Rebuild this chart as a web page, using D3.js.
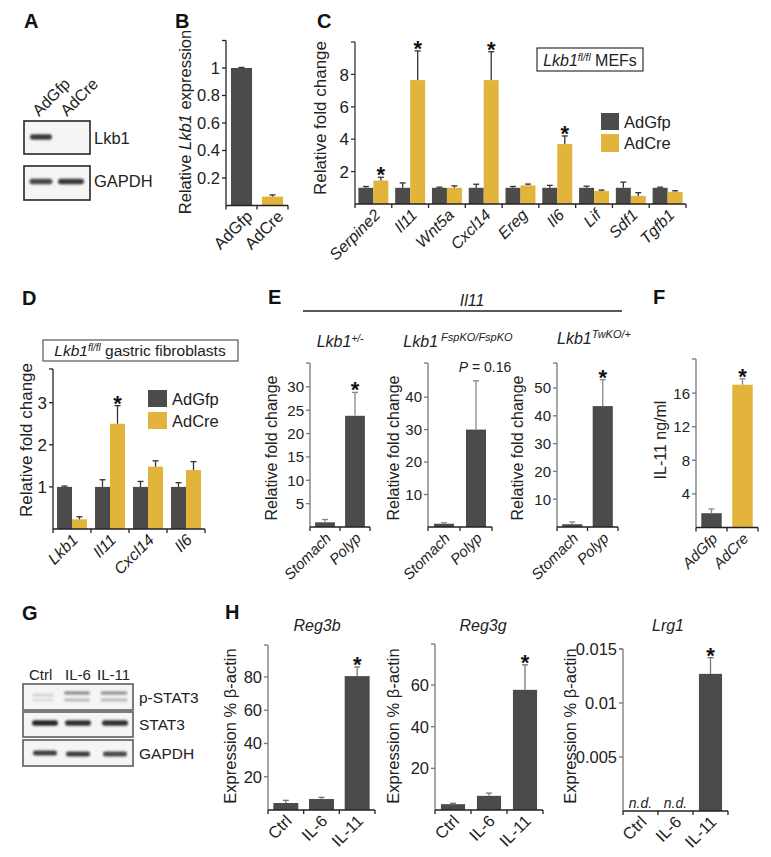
<!DOCTYPE html>
<html><head><meta charset="utf-8">
<script src="https://cdn.jsdelivr.net/npm/d3@7"></script>
<style>body{margin:0;background:#fff}svg{display:block;font-family:"Liberation Sans",Arial,sans-serif}</style>
</head><body><svg id="fig" width="771" height="857"></svg>
<script>
// ---------------- DATA ----------------
const bCats = ["AdGfp", "AdCre"];
const bValues = [1.0, 0.065];
const bErrors = [0.004, 0.012];
const bTicks = [0.2, 0.4, 0.6, 0.8, 1];
const bTickLabels = ["0.2", "0.4", "0.6", "0.8", "1"];

const cGenes = ["Serpine2", "Il11", "Wnt5a", "Cxcl14", "Ereg", "Il6", "Lif", "Sdf1", "Tgfb1"];
const cGfp = [1, 1, 1, 1, 1, 1, 1, 1, 1];
const cGfpErr = [0.08, 0.3, 0.04, 0.22, 0.08, 0.15, 0.1, 0.35, 0.04];
const cCre = [1.45, 7.65, 1.0, 7.65, 1.15, 3.7, 0.8, 0.5, 0.75];
const cCreErr = [0.2, 1.8, 0.12, 1.75, 0.08, 0.5, 0.06, 0.2, 0.07];
const cCreSig = [true, true, false, true, false, true, false, false, false];
const cTicks = [2, 4, 6, 8];

const dGenes = ["Lkb1", "Il11", "Cxcl14", "Il6"];
const dGfp = [1, 1, 1, 1];
const dGfpErr = [0.02, 0.17, 0.13, 0.1];
const dCre = [0.23, 2.5, 1.48, 1.4];
const dCreErr = [0.06, 0.43, 0.14, 0.2];
const dCreSig = [false, true, false, false];
const dTicks = [1, 2, 3];

const eCats = ["Stomach", "Polyp"];
const e1Values = [1.0, 23.8];
const e1Errors = [0.6, 5.0];
const e1Ticks = [5, 10, 15, 20, 25, 30];
const e2Values = [1.0, 30];
const e2Errors = [0.3, 15];
const e2Ticks = [10, 20, 30, 40];
const e3Values = [1.0, 43.5];
const e3Errors = [0.8, 9.5];
const e3Ticks = [10, 20, 30, 40, 50];

const fCats = ["AdGfp", "AdCre"];
const fValues = [1.7, 17.0];
const fErrors = [0.5, 0.7];
const fTicks = [4, 8, 12, 16];

const hCats = ["Ctrl", "IL-6", "IL-11"];
const hReg3b = [4.2, 6.6, 80.5];
const hReg3bErr = [1.6, 1.0, 5.5];
const hReg3bTicks = [20, 40, 60, 80];
const hReg3g = [2.8, 6.8, 57.7];
const hReg3gErr = [0.4, 1.3, 12];
const hReg3gTicks = [20, 40, 60];
const hLrg1 = [null, null, 0.0127];
const hLrg1Err = [0, 0, 0.0015];
const hLrg1Ticks = [0.005, 0.01, 0.015];
const hLrg1TickLabels = ["0.005", "0.01", "0.015"];

// ---------------- DRAWING ----------------
const svg = d3.select("#fig");
svg.append("rect").attr("width", 771).attr("height", 857).attr("fill", "#fff");
const defs = svg.append("defs");
defs.append("filter").attr("id", "blur").attr("x", "-50%").attr("y", "-100%").attr("width", "200%").attr("height", "300%")
  .append("feGaussianBlur").attr("stdDeviation", 1.2);

const GRAY = "#4b4c4a", YEL = "#e2b43c", TXT = "#222";

function panelLetter(t, x, y) {
  svg.append("text").attr("x", x).attr("y", y).attr("font-size", 20).attr("font-weight", "bold").attr("fill", "#111").text(t);
}

function richText(g, parts, attrs) {
  const t = g.append("text");
  Object.entries(attrs).forEach(([k, v]) => t.attr(k, v));
  parts.forEach(p => {
    const s = t.append("tspan").text(p.t);
    if (p.i) s.attr("font-style", "italic");
    if (p.sup) s.attr("baseline-shift", "super").attr("font-size", p.sup);
  });
  return t;
}

function barChart(c) {
  const g = svg.append("g");
  const y = d3.scaleLinear().domain([0, c.yMax]).range([c.y0, c.yTop]);
  const x = d3.scaleBand().domain(c.cats).range([c.x0, c.x1]).paddingInner(c.pad).paddingOuter(c.pad / 2);
  const nS = c.series.length;
  const xs = d3.scaleBand().domain(d3.range(nS)).range([0, x.bandwidth()]);
  const fs = c.fs || 16;
  const axc = c.axisColor || "#333";
  c.series.forEach((s, si) => {
    c.cats.forEach((cat, i) => {
      const v = s.values[i];
      if (v == null) return;
      const bx = x(cat) + xs(si), bw = xs.bandwidth(), cx = bx + bw / 2;
      const col = Array.isArray(s.color) ? s.color[i] : s.color;
      g.append("rect").attr("x", bx).attr("y", y(v)).attr("width", bw).attr("height", y(0) - y(v)).attr("fill", col);
      const e = s.errors[i];
      let top = y(v);
      if (e) {
        top = y(v + e);
        g.append("line").attr("x1", cx).attr("x2", cx).attr("y1", y(v)).attr("y2", top).attr("stroke", c.errColor || "#333").attr("stroke-width", 1.3);
        g.append("line").attr("x1", cx - 3).attr("x2", cx + 3).attr("y1", top).attr("y2", top).attr("stroke", c.errColor || "#333").attr("stroke-width", 1.3);
      }
      if (s.sig && s.sig[i]) {
        g.append("text").attr("x", cx).attr("y", top + 5).attr("text-anchor", "middle").attr("font-size", 22).attr("font-weight", "bold").attr("fill", "#111").text("*");
      }
    });
  });
  // y axis
  g.append("line").attr("x1", c.x0).attr("x2", c.x0).attr("y1", y(0)).attr("y2", c.yTop).attr("stroke", axc).attr("stroke-width", 1.3);
  g.append("line").attr("x1", c.x0 - 4).attr("x2", c.x0).attr("y1", c.yTop).attr("y2", c.yTop).attr("stroke", axc).attr("stroke-width", 1.3);
  c.ticks.forEach((tv, i) => {
    g.append("line").attr("x1", c.x0 - 4).attr("x2", c.x0).attr("y1", y(tv)).attr("y2", y(tv)).attr("stroke", axc).attr("stroke-width", 1.3);
    g.append("text").attr("x", c.x0 - 6).attr("y", y(tv)).attr("dy", "0.36em").attr("text-anchor", "end")
      .attr("font-size", fs).attr("fill", TXT).text(c.tickLabels ? c.tickLabels[i] : String(tv));
  });
  // x axis
  g.append("line").attr("x1", c.x0).attr("x2", c.x1).attr("y1", y(0)).attr("y2", y(0)).attr("stroke", "#222").attr("stroke-width", 1.4);
  const step = x.step();
  for (let i = 0; i <= c.cats.length; i++) {
    const tx = c.x0 + i * step;
    g.append("line").attr("x1", tx).attr("x2", tx).attr("y1", y(0)).attr("y2", y(0) + 4).attr("stroke", "#222").attr("stroke-width", 1.3);
  }
  const ldx = c.ldx == null ? 7 : c.ldx;
  c.cats.forEach(cat => {
    const cx = x(cat) + x.bandwidth() / 2;
    g.append("text").attr("transform", `translate(${cx + ldx},${y(0) + 12}) rotate(-45)`)
      .attr("text-anchor", "end").attr("font-size", c.xfs || fs).attr("fill", TXT)
      .attr("font-style", c.xItalic ? "italic" : "normal").text(cat);
  });
  const lg = g.append("g").attr("transform", `translate(${c.lx},${c.ly}) rotate(-90)`);
  richText(lg, c.ylabel, { "text-anchor": "middle", "font-size": c.lfs || 16, "fill": TXT });
  return { x, y, g };
}

// ---------- Panel A (blot) ----------
panelLetter("A", 24, 28);
panelLetter("B", 175, 28);
function blotBox(x0, y0, w, h, stroke) {
  svg.append("rect").attr("x", x0).attr("y", y0).attr("width", w).attr("height", h)
    .attr("fill", "#f5f5f5").attr("stroke", stroke || "#333").attr("stroke-width", 1.7);
}
function band(cx, cy, w, h, op) {
  svg.append("rect").attr("x", cx - w / 2).attr("y", cy - h / 2).attr("width", w).attr("height", h).attr("rx", h / 2)
    .attr("fill", "#1e1e1e").attr("opacity", op).attr("filter", "url(#blur)");
}
blotBox(24, 121, 66, 33);
band(41, 137, 22, 5.5, 0.85);
blotBox(24, 166, 66, 34);
band(41, 181.5, 23, 5.5, 0.8);
band(71, 181.5, 26, 5.5, 0.88);
svg.append("text").attr("x", 94).attr("y", 144).attr("font-size", 16.5).attr("fill", TXT).text("Lkb1");
svg.append("text").attr("x", 94).attr("y", 187).attr("font-size", 16.5).attr("fill", TXT).text("GAPDH");
svg.append("text").attr("transform", "translate(39,117) rotate(-45)").attr("font-size", 16).attr("fill", TXT).text("AdGfp");
svg.append("text").attr("transform", "translate(67,117) rotate(-45)").attr("font-size", 16).attr("fill", TXT).text("AdCre");

// ---------- Panel B ----------
barChart({
  cats: bCats, x0: 226, x1: 288, pad: 0.32, y0: 205.5, yTop: 40.5, yMax: 1.2,
  ticks: bTicks, tickLabels: bTickLabels, fs: 16.5, ldx: 12, axisColor: "#222",
  series: [{ values: bValues, errors: bErrors, color: [GRAY, YEL] }],
  ylabel: [{ t: "Relative " }, { t: "Lkb1", i: true }, { t: " expression" }], lx: 191, ly: 122, lfs: 16.5
});

// ---------- Panel C ----------
panelLetter("C", 317, 28);
barChart({
  cats: cGenes, x0: 355, x1: 686, pad: 0.185, y0: 204, yTop: 42, yMax: 10,
  ticks: cTicks, fs: 17, xItalic: true, xfs: 16, ldx: 8, axisColor: "#333",
  series: [{ values: cGfp, errors: cGfpErr, color: GRAY }, { values: cCre, errors: cCreErr, color: YEL, sig: cCreSig }],
  ylabel: [{ t: "Relative fold change" }], lx: 326, ly: 118, lfs: 17
});
svg.append("rect").attr("x", 537).attr("y", 48).attr("width", 106).attr("height", 23).attr("fill", "none").attr("stroke", "#333").attr("stroke-width", 1.2);
richText(svg, [{ t: "Lkb1", i: true }, { t: "fl/fl", i: true, sup: 10 }, { t: " MEFs" }], { x: 590, y: 66, "text-anchor": "middle", "font-size": 16, fill: TXT });
svg.append("rect").attr("x", 601).attr("y", 113).attr("width", 18).attr("height", 17).attr("fill", GRAY);
svg.append("rect").attr("x", 601).attr("y", 134).attr("width", 18).attr("height", 18).attr("fill", YEL);
svg.append("text").attr("x", 624).attr("y", 128).attr("font-size", 16.5).attr("fill", TXT).text("AdGfp");
svg.append("text").attr("x", 624).attr("y", 149).attr("font-size", 16.5).attr("fill", TXT).text("AdCre");

// ---------- Panel D ----------
panelLetter("D", 22, 305);
svg.append("rect").attr("x", 43).attr("y", 340).attr("width", 195).attr("height", 21).attr("fill", "none").attr("stroke", "#555").attr("stroke-width", 1.2);
richText(svg, [{ t: "Lkb1", i: true }, { t: "fl/fl", i: true, sup: 10 }, { t: " gastric fibroblasts" }], { x: 140, y: 356, "text-anchor": "middle", "font-size": 15.5, fill: TXT });
barChart({
  cats: dGenes, x0: 53, x1: 205, pad: 0.21, y0: 529, yTop: 369, yMax: 3.8,
  ticks: dTicks, fs: 17, xItalic: true, xfs: 16, axisColor: "#222",
  series: [{ values: dGfp, errors: dGfpErr, color: GRAY }, { values: dCre, errors: dCreErr, color: YEL, sig: dCreSig }],
  ylabel: [{ t: "Relative fold change" }], lx: 32, ly: 440, lfs: 17
});
svg.append("rect").attr("x", 148).attr("y", 390).attr("width", 19).attr("height", 17).attr("fill", GRAY);
svg.append("rect").attr("x", 148).attr("y", 412).attr("width", 19).attr("height", 17).attr("fill", YEL);
svg.append("text").attr("x", 172).attr("y", 405).attr("font-size", 16.5).attr("fill", TXT).text("AdGfp");
svg.append("text").attr("x", 172).attr("y", 427).attr("font-size", 16.5).attr("fill", TXT).text("AdCre");

// ---------- Panel E ----------
panelLetter("E", 268, 304);
svg.append("line").attr("x1", 303).attr("x2", 622).attr("y1", 311).attr("y2", 311).attr("stroke", "#222").attr("stroke-width", 1.4);
richText(svg, [{ t: "Il11", i: true }], { x: 472, y: 306, "text-anchor": "middle", "font-size": 16, fill: TXT });
richText(svg, [{ t: "Lkb1", i: true }, { t: "+/-", i: true, sup: 10 }], { x: 340, y: 347, "text-anchor": "middle", "font-size": 16, fill: TXT });
richText(svg, [{ t: "Lkb1", i: true }, { t: " FspKO/FspKO", i: true, sup: 11 }], { x: 458, y: 347, "text-anchor": "middle", "font-size": 16, fill: TXT });
richText(svg, [{ t: "Lkb1", i: true }, { t: "TwKO/+", i: true, sup: 11 }], { x: 594, y: 344, "text-anchor": "middle", "font-size": 16, fill: TXT });
const eY = [{ t: "Relative fold change" }];
barChart({
  cats: eCats, x0: 310, x1: 370, pad: 0.34, y0: 527, yTop: 363, yMax: 35.1,
  ticks: e1Ticks, fs: 15, xItalic: true, errColor: "#888", axisColor: "#777",
  series: [{ values: e1Values, errors: e1Errors, color: GRAY, sig: [false, true] }],
  ylabel: eY, lx: 277, ly: 448, lfs: 16
});
barChart({
  cats: eCats, x0: 428, x1: 492, pad: 0.375, y0: 527, yTop: 363, yMax: 50.5,
  ticks: e2Ticks, fs: 15, xItalic: true, errColor: "#888", axisColor: "#777",
  series: [{ values: e2Values, errors: e2Errors, color: GRAY }],
  ylabel: eY, lx: 399, ly: 448, lfs: 16
});
svg.append("text").attr("x", 485).attr("y", 372).attr("text-anchor", "middle").attr("font-size", 14).attr("fill", TXT)
  .call(t => { t.append("tspan").attr("font-style", "italic").text("P"); t.append("tspan").text(" = 0.16"); });
barChart({
  cats: eCats, x0: 557, x1: 618, pad: 0.34, y0: 527, yTop: 363, yMax: 59,
  ticks: e3Ticks, fs: 15, xItalic: true, errColor: "#888", axisColor: "#777",
  series: [{ values: e3Values, errors: e3Errors, color: GRAY, sig: [false, true] }],
  ylabel: eY, lx: 523, ly: 448, lfs: 16
});

// ---------- Panel F ----------
panelLetter("F", 653, 304);
barChart({
  cats: fCats, x0: 696, x1: 758, pad: 0.34, y0: 527.5, yTop: 359, yMax: 20.06,
  ticks: fTicks, fs: 15, xItalic: true, errColor: "#888", axisColor: "#777",
  series: [{ values: fValues, errors: fErrors, color: [GRAY, YEL], sig: [false, true] }],
  ylabel: [{ t: "IL-11 ng/ml" }], lx: 666, ly: 440, lfs: 16
});

// ---------- Panel G (blot) ----------
panelLetter("G", 22, 620);
svg.append("text").attr("x", 29).attr("y", 680).attr("font-size", 15).attr("fill", TXT).text("Ctrl");
svg.append("text").attr("x", 65).attr("y", 680).attr("font-size", 15).attr("fill", TXT).text("IL-6");
svg.append("text").attr("x", 97).attr("y", 680).attr("font-size", 15).attr("fill", TXT).text("IL-11");
blotBox(23, 684, 110, 26, "#666");
band(43, 695, 22, 3, 0.15); band(43, 700, 22, 3, 0.1);
band(77, 693, 26, 3.5, 0.45); band(77, 700, 26, 3, 0.28);
band(114, 693, 27, 3.5, 0.42); band(114, 700, 27, 3, 0.28);
blotBox(23, 712, 110, 25, "#666");
band(45, 723, 26, 5.5, 0.95); band(78, 723, 26, 5.5, 0.9); band(115, 723, 26, 5.5, 0.9);
blotBox(23, 740, 110, 26, "#666");
band(45, 753, 24, 5, 0.85); band(78, 754, 24, 5, 0.85); band(115, 754, 24, 5, 0.8);
svg.append("text").attr("x", 139).attr("y", 703).attr("font-size", 15.5).attr("fill", TXT).text("p-STAT3");
svg.append("text").attr("x", 139).attr("y", 730).attr("font-size", 15.5).attr("fill", TXT).text("STAT3");
svg.append("text").attr("x", 139).attr("y", 759).attr("font-size", 15.5).attr("fill", TXT).text("GAPDH");

// ---------- Panel H ----------
panelLetter("H", 225, 619);
const hY = [{ t: "Expression % \u03b2-actin" }];
barChart({
  cats: hCats, x0: 268, x1: 375, pad: 0.3, y0: 810, yTop: 645, yMax: 99.2,
  ticks: hReg3bTicks, fs: 16.5, errColor: "#777", axisColor: "#777",
  series: [{ values: hReg3b, errors: hReg3bErr, color: GRAY, sig: [false, false, true] }],
  ylabel: hY, lx: 236, ly: 726, lfs: 16.5
});
richText(svg, [{ t: "Reg3b", i: true }], { x: 317, y: 631, "text-anchor": "middle", "font-size": 16, fill: TXT });
barChart({
  cats: hCats, x0: 435, x1: 543, pad: 0.33, y0: 810, yTop: 644, yMax: 79.7,
  ticks: hReg3gTicks, fs: 16.5, errColor: "#777", axisColor: "#777",
  series: [{ values: hReg3g, errors: hReg3gErr, color: GRAY, sig: [false, false, true] }],
  ylabel: hY, lx: 399, ly: 726, lfs: 16.5
});
richText(svg, [{ t: "Reg3g", i: true }], { x: 483, y: 631, "text-anchor": "middle", "font-size": 16, fill: TXT });
const h3 = barChart({
  cats: hCats, x0: 623, x1: 728, pad: 0.34, y0: 811, yTop: 649, yMax: 0.015,
  ticks: hLrg1Ticks, tickLabels: hLrg1TickLabels, fs: 16.5, errColor: "#777", axisColor: "#777",
  series: [{ values: hLrg1, errors: hLrg1Err, color: GRAY, sig: [false, false, true] }],
  ylabel: hY, lx: 576, ly: 726, lfs: 16.5
});
richText(svg, [{ t: "Lrg1", i: true }], { x: 668, y: 631, "text-anchor": "middle", "font-size": 16, fill: TXT });
hCats.forEach((cat, i) => {
  if (hLrg1[i] == null) {
    h3.g.append("text").attr("x", h3.x(cat) + h3.x.bandwidth() / 2).attr("y", 808).attr("text-anchor", "middle")
      .attr("font-size", 14).attr("font-style", "italic").attr("fill", TXT).text("n.d.");
  }
});
</script></body></html>
